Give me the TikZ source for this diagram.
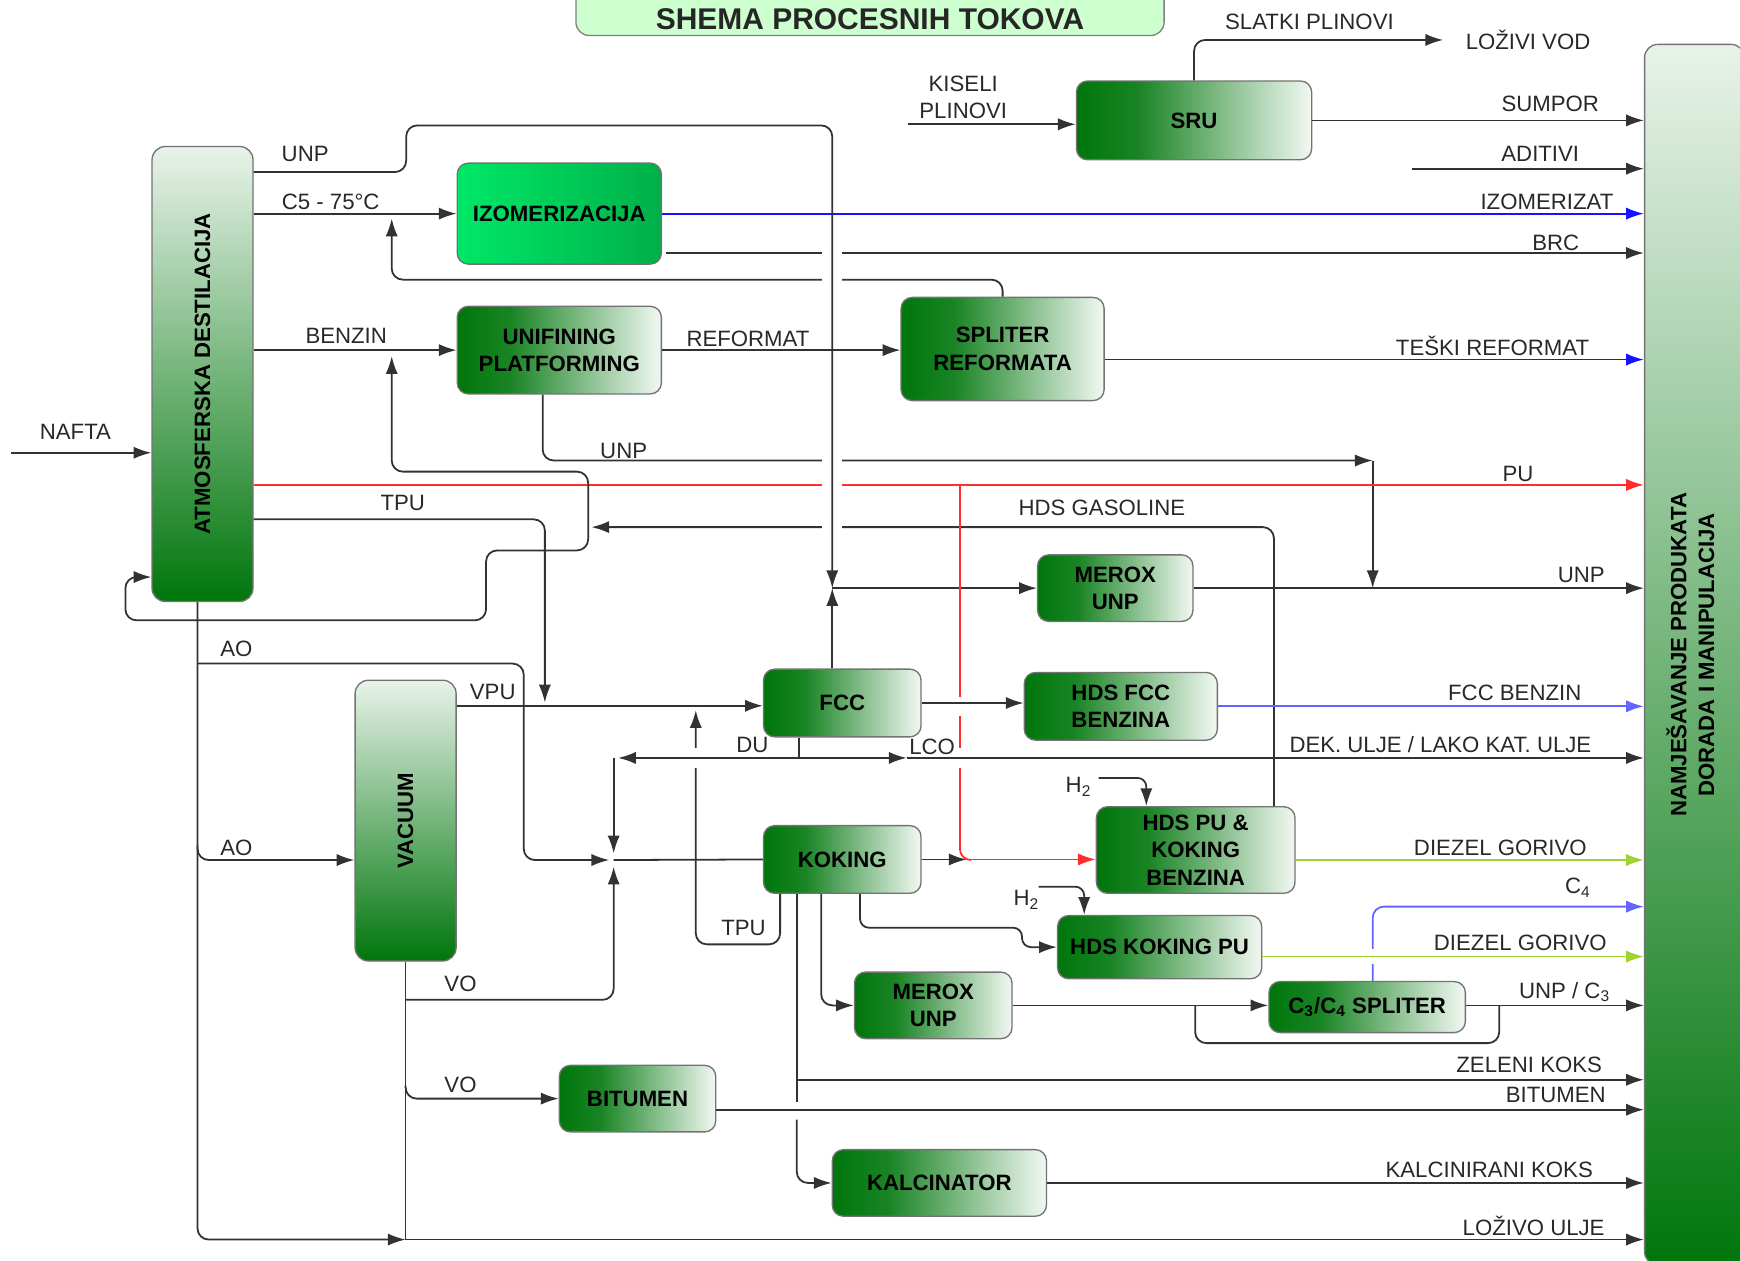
\documentclass[tikz,border=0pt]{standalone}
\usepackage{fontspec}
\usepackage{graphicx}
\setmainfont{Liberation Sans}
\usetikzlibrary{arrows.meta}

\definecolor{dkgreen}{RGB}{0,118,12}
\definecolor{izlight}{RGB}{0,232,104}
\definecolor{izdark}{RGB}{0,176,72}
\definecolor{titlegreen}{RGB}{206,255,206}
\definecolor{pipegray}{RGB}{50,50,50}
\definecolor{labelgray}{RGB}{40,40,40}
\definecolor{prodblue}{RGB}{20,20,255}
\definecolor{lightblue}{RGB}{100,100,255}
\definecolor{pured}{RGB}{255,45,45}
\definecolor{dieselgreen}{RGB}{160,210,50}

\pgfdeclarehorizontalshading{unitfade}{100bp}{color(0bp)=(dkgreen); color(25bp)=(dkgreen); color(38bp)=(dkgreen!90); color(75bp)=(dkgreen!5); color(100bp)=(dkgreen!5)}

\tikzset{
  unit/.style={draw=black!55, line width=0.6pt, rounded corners=5pt, shading=unitfade,
    text=black, align=center, inner sep=1pt, font=\bfseries\fontsize{10}{12.3}\selectfont},
  column/.style={draw=black!55, line width=0.6pt, rounded corners=6pt,
    top color=dkgreen!9, bottom color=dkgreen, text=black, inner sep=0pt,
    font=\bfseries\fontsize{10}{12.5}\selectfont},
  titlebox/.style={draw=black!50, line width=0.6pt, fill=titlegreen, rounded corners=6pt,
    minimum width=265pt, minimum height=26pt},
  pipe/.style={draw=pipegray, line width=0.8pt},
  flow/.style={pipe, -{Latex[length=8pt,width=5.5pt]}},
  lbl/.style={text=labelgray, inner sep=0pt, font=\fontsize{10}{12}\selectfont},
  gap/.style={draw=white, line width=3pt},
}

\begin{document}
\begin{tikzpicture}[x=0.5pt, y=-0.5pt]
\useasboundingbox (0,0) rectangle (1568,1136);

\node[titlebox] (titlebg) at (784,6) {};
\node[font=\bfseries\fontsize{13.5}{16}\selectfont, text=black!85] (title) at (784,17) {SHEMA PROCESNIH TOKOVA};

\node[column, minimum width=45.5pt, minimum height=205pt] (atmos) at (182.5,337) {\rotatebox{90}{ATMOSFERSKA DESTILACIJA}};
\node[column, minimum width=45.5pt, minimum height=126.5pt] (vacuum) at (365.5,739.5) {\rotatebox{90}{VACUUM}};
\node[column, minimum width=45pt, minimum height=550pt] (namje) at (1527,590) {\rotatebox{90}{\begin{tabular}{@{}c@{}}NAMJEŠAVANJE PRODUKATA\\DORADA I MANIPULACIJA\end{tabular}}};

\node[unit, minimum width=92pt, minimum height=45.5pt, left color=izlight, right color=izdark] (izom) at (504,192.5) {IZOMERIZACIJA};
\node[unit, minimum width=92pt, minimum height=39.5pt] (unif) at (504,315.5) {UNIFINING\\PLATFORMING};
\node[unit, minimum width=91.5pt, minimum height=46.5pt] (spliter) at (903.5,314.5) {SPLITER\\REFORMATA};
\node[unit, minimum width=106pt, minimum height=35.5pt] (sru) at (1076,108.5) {SRU};
\node[unit, minimum width=70pt, minimum height=30pt] (meroxa) at (1005,530) {MEROX\\UNP};
\node[unit, minimum width=71pt, minimum height=30.5pt] (fcc) at (759,633.5) {FCC};
\node[unit, minimum width=87pt, minimum height=30.5pt] (hdsfcc) at (1010,636.5) {HDS FCC\\BENZINA};
\node[unit, minimum width=71pt, minimum height=30.5pt] (koking) at (759,774.5) {KOKING};
\node[unit, minimum width=89.5pt, minimum height=39pt] (hdspu) at (1077.5,766) {HDS PU \&\\KOKING\\BENZINA};
\node[unit, minimum width=92pt, minimum height=28.5pt] (hdskpu) at (1045,853.5) {HDS KOKING PU};
\node[unit, minimum width=71pt, minimum height=30pt] (meroxb) at (841,906) {MEROX\\UNP};
\node[unit, minimum width=88.5pt, minimum height=23pt] (c3c4) at (1232,907.5) {C\textsubscript{3}/C\textsubscript{4} SPLITER};
\node[unit, minimum width=70.5pt, minimum height=30pt] (bitumen) at (574.5,990) {BITUMEN};
\node[unit, minimum width=96.5pt, minimum height=30pt] (kalc) at (846.5,1066) {KALCINATOR};

\coordinate (nafta) at (10,408);
\coordinate (ja) at (750,530);
\coordinate (jb) at (1237,415);
\coordinate (jc) at (1237,530);
\coordinate (jd) at (365.5,1117);
\coordinate (je) at (553,775);
\coordinate (kisin) at (818,112);
\coordinate (aditin) at (1272,152);
\coordinate (brcin) at (600,228);
\node[lbl, inner sep=10pt] (lozvod) at (1377,36) {LOŽIVI VOD};
\node[lbl] (h2a) at (972,709) {H\textsubscript{2}};
\node[lbl] (h2b) at (925,811) {H\textsubscript{2}};

\draw[flow] (nafta) -- (nafta -| atmos.west);
\draw[flow] (kisin) -- (kisin -| sru.west);
\draw[flow, rounded corners=5pt] (sru.north) -- (1076,36) -- (lozvod.west);
\draw[flow] (sru.east) -- (sru.east -| namje.west);
\draw[flow] (aditin) -- (aditin -| namje.west);
\draw[flow] (atmos.east |- izom.west) -- (izom.west);
\draw[flow, draw=prodblue] (izom.east) -- (izom.east -| namje.west);
\draw[flow] (brcin) -- (brcin -| namje.west);
\draw[flow, rounded corners=5pt] (spliter.north) -- (spliter.north |- 0,252) -- (353,252) -- (353,197);
\draw[flow] (atmos.east |- unif.west) -- (unif.west);
\draw[flow] (unif.east) -- (unif.east -| spliter.west);
\draw[flow, draw=prodblue] (spliter.east |- 0,324) -- (namje.west |- 0,324);
\draw[flow, rounded corners=5pt] (unif.south -| 489,0) -- (489,415) -- (jb);
\draw[flow] (jb) -- (jc);
\draw[flow] (meroxa.east) -- (meroxa.east -| namje.west);
\draw[flow, draw=pured] (atmos.east |- 0,437) -- (namje.west |- 0,437);
\draw[flow, rounded corners=5pt] (atmos.east |- 0,468) -- (491,468) -- (491,633);
\draw[flow, rounded corners=5pt] (hdspu.north -| 1148,0) -- (1148,475) -- (533,475);
\draw[flow, rounded corners=5pt] (530,476) -- (530,425) -- (353,425) -- (353,321);
\draw[flow, rounded corners=5pt] (530,476) -- (530,496) -- (438,496) -- (438,559) -- (113,559) -- (113,520) -- (atmos.west |- 0,520);

\draw[gap] (741,228) -- (759,228);
\draw[gap] (741,252) -- (759,252);
\draw[gap] (741,415) -- (759,415);
\draw[gap] (741,437) -- (759,437);
\draw[gap] (741,475) -- (759,475);
\draw[flow, rounded corners=5pt] (atmos.east |- 0,155) -- (366,155) -- (366,113) -- (750,113) -- (ja);
\draw[flow] (fcc.north -| ja) -- (ja);
\draw[flow] (ja) -- (meroxa.west);

\draw[draw=pured, line width=0.8pt, rounded corners=5pt] (865,437) -- (865,775) -- (875,775);
\draw[flow, draw=pured] (871,774.5) -- (hdspu.west |- koking.east);
\draw[flow] (koking.east) -- (871,774.5);
\draw[flow, rounded corners=5pt] (koking.south -| 703,0) -- (703,851) -- (627,851) -- (627,640);
\draw[flow] (vacuum.east |- 0,636) -- (fcc.west |- 0,636);

\draw[gap] (865,628) -- (865,645);
\draw[gap] (865,674) -- (865,692);
\draw[gap] (627,674) -- (627,692);
\draw[flow] (fcc.east) -- (fcc.east -| hdsfcc.west);
\draw[flow, draw=lightblue] (hdsfcc.east) -- (hdsfcc.east -| namje.west);
\draw[pipe] (fcc.south -| 720,0) -- (720,683);
\draw[flow] (720,683) -- (557,683);
\draw[flow] (720,683) -- (817,683);
\draw[flow] (817,683) -- (namje.west |- 0,683);
\draw[flow] (553,683) -- (553,769);

\draw[flow, rounded corners=5pt] (atmos.south -| 178,0) -- (178,1117) -- (jd);
\draw[flow, rounded corners=5pt] (178,598) -- (472,598) -- (472,775) -- (549,775);
\draw[flow, rounded corners=5pt] (178,762) -- (178,775) -- (vacuum.west |- 0,775);
\draw[pipe] (vacuum.south) -- (jd);
\draw[flow, rounded corners=5pt] (365.5,901) -- (553,901) -- (553,781);
\draw[flow, rounded corners=5pt] (365.5,978) -- (365.5,990) -- (bitumen.west);
\draw[flow] (jd) -- (jd -| namje.west);
\draw[pipe] (je) -- (koking.west);

\draw[pipe] (koking.south -| 718,0) -- (718,993);
\draw[flow] (718,973) -- (namje.west |- 0,973);
\draw[flow, rounded corners=5pt] (718,1009) -- (718,1066) -- (kalc.west);
\draw[flow, rounded corners=5pt] (koking.south -| 740,0) -- (740,906) -- (meroxb.west);
\draw[flow, rounded corners=4pt] (koking.south -| 775,0) -- (775,836) -- (921,836) -- (921,853.5) -- (hdskpu.west);
\draw[flow] (bitumen.east |- 0,1000) -- (namje.west |- 0,1000);
\draw[flow] (kalc.east) -- (kalc.east -| namje.west);

\draw[flow, rounded corners=4pt] (990,701) -- (1033,701) -- (hdspu.north -| 1033,0);
\draw[flow, rounded corners=4pt] (936,799) -- (977,799) -- (hdskpu.north -| 977,0);
\draw[flow, draw=dieselgreen] (hdspu.east |- 0,775) -- (namje.west |- 0,775);
\draw[flow, draw=lightblue, rounded corners=5pt] (c3c4.north -| 1237,0) -- (1237,817) -- (namje.west |- 0,817);
\draw[gap] (1237,855) -- (1237,869);
\draw[flow, draw=dieselgreen] (hdskpu.east |- 0,862) -- (namje.west |- 0,862);
\draw[flow] (meroxb.east) -- (meroxb.east -| c3c4.west);
\draw[flow] (c3c4.east |- meroxb.east) -- (namje.west |- meroxb.east);
\draw[pipe, rounded corners=5pt] (1351,906) -- (1351,940) -- (1077,940) -- (1077,906);

\node[lbl] at (68,389) {NAFTA};
\node[lbl] at (275,139) {UNP};
\node[lbl] at (298,182) {C5 - 75°C};
\node[lbl] at (312,303) {BENZIN};
\node[lbl] at (674,305) {REFORMAT};
\node[lbl] at (562,406) {UNP};
\node[lbl] at (363,453) {TPU};
\node[lbl] at (1368,427) {PU};
\node[lbl] at (993,458) {HDS GASOLINE};
\node[lbl] at (213,585) {AO};
\node[lbl] at (213,764) {AO};
\node[lbl] at (444,624) {VPU};
\node[lbl] at (678,671) {DU};
\node[lbl] at (840,673) {LCO};
\node[lbl] at (1298,671) {DEK. ULJE / LAKO KAT. ULJE};
\node[lbl] at (670,836) {TPU};
\node[lbl] at (415,887) {VO};
\node[lbl] at (415,978) {VO};
\node[lbl, align=center, font=\fontsize{10}{12}\selectfont] at (868,88) {KISELI\\PLINOVI};
\node[lbl] at (1180,20) {SLATKI PLINOVI};
\node[lbl] at (1397,94) {SUMPOR};
\node[lbl] at (1388,139) {ADITIVI};
\node[lbl] at (1394,182) {IZOMERIZAT};
\node[lbl] at (1402,219) {BRC};
\node[lbl] at (1345,312) {TEŠKI REFORMAT};
\node[lbl] at (1425,518) {UNP};
\node[lbl] at (1365,624) {FCC BENZIN};
\node[lbl] at (1352,764) {DIEZEL GORIVO};
\node[lbl] at (1422,800) {C\textsubscript{4}};
\node[lbl] at (1370,850) {DIEZEL GORIVO};
\node[lbl] at (1410,894) {UNP / C\textsubscript{3}};
\node[lbl] at (1378,960) {ZELENI KOKS};
\node[lbl] at (1402,987) {BITUMEN};
\node[lbl] at (1342,1054) {KALCINIRANI KOKS};
\node[lbl] at (1382,1105) {LOŽIVO ULJE};

\end{tikzpicture}
\end{document}
